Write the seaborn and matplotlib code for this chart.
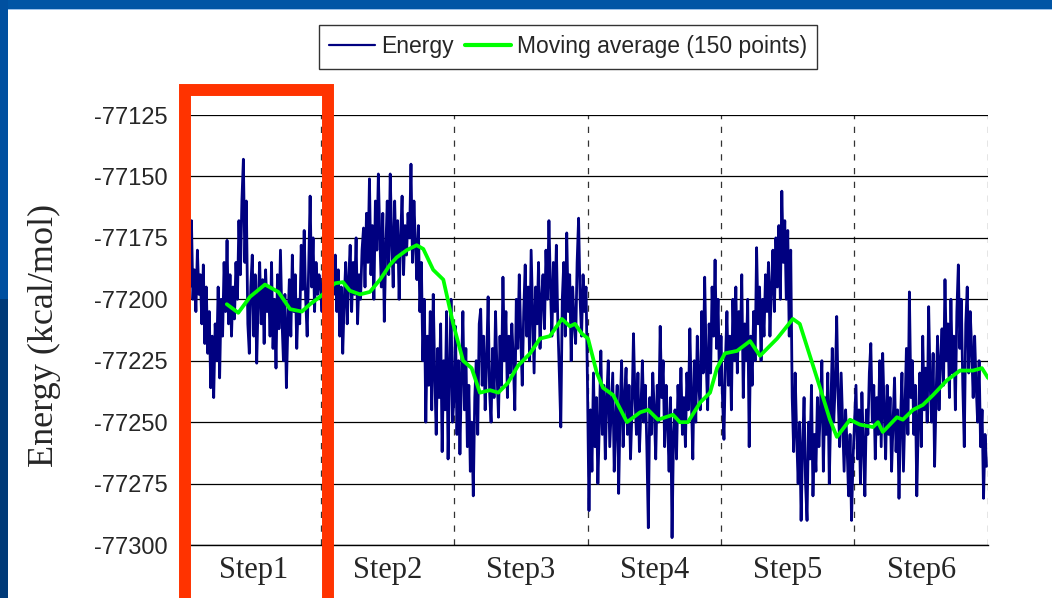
import numpy as np
import pandas as pd
import matplotlib
matplotlib.use("Agg")
import matplotlib.pyplot as plt
from matplotlib.patches import Rectangle
import seaborn as sns

# ---------------- data ----------------
steps = ["Step1", "Step2", "Step3", "Step4", "Step5", "Step6"]
samples_per_step = 500
y_ticks = [-77300, -77275, -77250, -77225, -77200, -77175, -77150, -77125]

energy_step1 = [-77185, -77170, -77195, -77168, -77200, -77188, -77205, -77180, -77198, -77190,
                -77210, -77186, -77218, -77195, -77222,
                -77205, -77236, -77215, -77240, -77210, -77225, -77195, -77232, -77200, -77215, -77185,
                -77205, -77176, -77210, -77190, -77215, -77195, -77208, -77185, -77200, -77168,
                -77190, -77160, -77143, -77185, -77160, -77210, -77222,
                -77195, -77182, -77215, -77190, -77226, -77200, -77185, -77210, -77192, -77218, -77188, -77205,
                -77195, -77215, -77185, -77220, -77200, -77228, -77190, -77212, -77180, -77208, -77225, -77198,
                -77236, -77210, -77192, -77215,
                -77182, -77205, -77190, -77220, -77200, -77210, -77178, -77196, -77172, -77200,
                -77215, -77188, -77158, -77195, -77175, -77205, -77185, -77198, -77190]
energy_step2 = [-77195, -77205, -77188, -77210, -77192, -77200, -77185, -77208, -77190, -77198,
                -77182, -77205, -77188, -77215, -77195, -77222, -77200, -77185, -77210, -77192,
                -77178, -77205, -77185, -77198, -77175, -77210, -77190, -77200, -77180, -77171,
                -77195, -77165, -77185, -77151, -77190, -77170, -77200, -77160, -77180, -77149,
                -77175, -77195, -77165, -77209, -77180, -77160, -77190, -77149, -77175, -77195,
                -77160, -77185, -77168, -77200, -77175, -77158, -77190, -77170, -77182, -77165,
                -77175, -77145, -77185, -77160, -77178,
                -77192, -77170, -77205, -77185, -77225, -77200, -77250, -77215,
                -77235, -77205, -77245, -77198, -77230, -77255, -77220, -77240, -77210, -77262,
                -77225, -77245, -77205, -77265, -77230, -77200, -77250]
energy_step3 = [-77240, -77211, -77255, -77225, -77263, -77230, -77205, -77245, -77220, -77260,
                -77235, -77270, -77250, -77280, -77240, -77225, -77255, -77210, -77204, -77235,
                -77215, -77245, -77225, -77199, -77238, -77250, -77220, -77240, -77205, -77230,
                -77248, -77215, -77235, -77191, -77225, -77205, -77240, -77215, -77230, -77210,
                -77225, -77245, -77200, -77220, -77190, -77215, -77235, -77205, -77186, -77215,
                -77195, -77225, -77180, -77205, -77230, -77195, -77210, -77185, -77220, -77200,
                -77190, -77212, -77180, -77200, -77168, -77195, -77215, -77185, -77205, -77178,
                -77210, -77230, -77252, -77200, -77185, -77215, -77173, -77205, -77190, -77225,
                -77195, -77210, -77218, -77185, -77167, -77200, -77215, -77190, -77205, -77195]
energy_step4 = [-77235, -77286, -77245, -77270, -77230, -77260, -77240, -77275, -77250, -77221,
                -77255, -77235, -77265, -77240, -77225, -77260, -77245, -77230, -77270, -77250,
                -77235, -77279, -77245, -77225, -77260, -77240, -77228, -77255, -77235, -77265,
                -77245, -77214, -77240, -77255, -77230, -77262, -77245, -77225, -77250, -77235,
                -77260, -77293, -77240, -77255, -77230, -77245, -77265, -77235, -77250, -77211,
                -77240, -77225, -77260, -77235, -77250, -77270, -77240, -77297, -77255, -77245,
                -77265, -77235, -77250, -77228, -77255, -77240, -77260, -77230, -77245, -77212,
                -77240, -77265, -77225, -77250, -77215, -77235, -77245, -77205, -77230, -77191,
                -77225, -77245, -77210, -77230, -77195, -77215, -77184, -77220, -77200, -77235]
energy_step5 = [-77215, -77240, -77257, -77225, -77205, -77235, -77215, -77245, -77200, -77225,
                -77195, -77230, -77205, -77220, -77190, -77240, -77210, -77225, -77200, -77260,
                -77215, -77235, -77205, -77225, -77179, -77210, -77195, -77225, -77200, -77215,
                -77190, -77205, -77185, -77215, -77195, -77180, -77205, -77175, -77195, -77170,
                -77200, -77156, -77185, -77168, -77200, -77172, -77215, -77180, -77240, -77262,
                -77230, -77255, -77275, -77250, -77290, -77260, -77240, -77275, -77290, -77250,
                -77265, -77235, -77280, -77255, -77270, -77240, -77260, -77245, -77225, -77270,
                -77240, -77255, -77230, -77275, -77245, -77220, -77250, -77235, -77207, -77240,
                -77260, -77230, -77250, -77270, -77245, -77260, -77280, -77255, -77290, -77265]
energy_step6 = [-77250, -77235, -77265, -77245, -77275, -77238, -77260, -77280, -77245, -77255,
                -77230, -77218, -77250, -77235, -77265, -77240, -77255, -77225, -77260, -77222,
                -77245, -77265, -77235, -77255, -77240, -77270, -77250, -77232, -77262, -77245,
                -77281, -77250, -77230, -77270, -77245, -77220, -77255, -77197, -77240, -77225,
                -77255, -77235, -77280, -77250, -77230, -77260, -77215, -77245, -77228, -77250,
                -77203, -77235, -77250, -77222, -77268, -77240, -77215, -77245, -77225, -77212,
                -77235, -77192, -77225, -77210, -77240, -77200, -77230, -77215, -77245, -77205,
                -77186, -77220, -77200, -77235, -77260, -77210, -77195, -77230, -77205, -77220,
                -77240, -77215, -77235, -77250, -77225, -77260, -77245, -77281, -77255, -77268]
energy_steps = [energy_step1, energy_step2, energy_step3, energy_step4, energy_step5, energy_step6]

ma_sample = [149, 192, 236, 292, 342, 361, 386, 430, 461, 498, 554, 584, 610, 648, 685, 723,
             760, 785, 823, 860, 885, 922, 960, 997, 1034, 1066, 1097, 1135, 1166, 1202, 1240,
             1285, 1322, 1359, 1404, 1434, 1453, 1479, 1502, 1535, 1558, 1596, 1648, 1697, 1727,
             1764, 1820, 1846, 1876, 1922, 1959, 1985, 2015, 2060, 2109, 2146, 2210, 2269, 2295,
             2333, 2371, 2408, 2434, 2483, 2520, 2569, 2588, 2606, 2659, 2681, 2719, 2756, 2794,
             2846, 2895, 2944, 2977, 3000]
ma_value = [-77202, -77205.5, -77199, -77194, -77197, -77200, -77204, -77205, -77202, -77199,
            -77193.5, -77193, -77196.5, -77198, -77197, -77192, -77186, -77183, -77180, -77178,
            -77179.5, -77188, -77192, -77210, -77225, -77228, -77238, -77237, -77238, -77234,
            -77227, -77222, -77216, -77215, -77208, -77211, -77210, -77214, -77216, -77230,
            -77236, -77239, -77250, -77246, -77245, -77249, -77247, -77250, -77250, -77242,
            -77238, -77228, -77222, -77221, -77217, -77223, -77216, -77208, -77210, -77223,
            -77236, -77249, -77256, -77249, -77251, -77252, -77250, -77254, -77248, -77249,
            -77245, -77243, -77239, -77233, -77229, -77229, -77228, -77232]

# ---------------- build tables ----------------
xs, ys = [], []
for i, vals in enumerate(energy_steps):
    n = len(vals)
    xs.append(i * samples_per_step + np.arange(n) * samples_per_step / n)
    ys.append(np.asarray(vals, dtype=float))
energy_df = pd.DataFrame({"sample": np.concatenate(xs), "energy": np.concatenate(ys)})
ma_df = pd.DataFrame({"sample": ma_sample, "energy": ma_value})

# ---------------- style ----------------
sns.set_style("white")
plt.rcParams["font.family"] = ["Liberation Sans", "DejaVu Sans"]

W, H = 1052, 598
fig = plt.figure(figsize=(W / 100, H / 100), dpi=100)
fig.patch.set_facecolor("white")
ax = fig.add_axes([187 / W, 1 - 545 / H, (988 - 187) / W, (545 - 115) / H])
ax.set_facecolor("white")

sns.lineplot(data=energy_df, x="sample", y="energy", ax=ax, color="#000080",
             linewidth=2.0, estimator=None, sort=False, label="Energy", zorder=3)
sns.lineplot(data=ma_df, x="sample", y="energy", ax=ax, color="#00FF00",
             linewidth=2.7, estimator=None, sort=False,
             label="Moving average (150 points)", zorder=4)

ax.set_xlim(0, samples_per_step * len(steps))
ax.set_ylim(-77300, -77125)

# x axis: major ticks at step boundaries, labels centred between
bounds = [i * samples_per_step for i in range(len(steps) + 1)]
centers = [i * samples_per_step + samples_per_step / 2 for i in range(len(steps))]
ax.set_xticks(bounds)
ax.set_xticklabels([""] * len(bounds))
ax.set_xticks(centers, minor=True)
ax.set_xticklabels(steps, minor=True, fontfamily="Liberation Serif", fontsize=22)
ax.tick_params(axis="x", which="major", direction="out", length=6, width=1, color="black")
ax.tick_params(axis="x", which="minor", length=0, pad=8)

ax.set_yticks(y_ticks)
ax.set_yticklabels([str(v) for v in y_ticks], fontsize=17, fontfamily="Liberation Sans")
ax.tick_params(axis="y", length=0, pad=14)

ax.grid(False)
ax.yaxis.grid(True, color="black", linewidth=0.9, linestyle="-")
ax.xaxis.grid(True, which="major", color="#333333", linewidth=0.9, linestyle=(0, (5, 6)))
ax.set_axisbelow(True)

for s in ["top", "right", "left"]:
    ax.spines[s].set_visible(False)
ax.spines["bottom"].set_color("black")
ax.spines["bottom"].set_linewidth(1.0)

ax.set_xlabel("")
ax.set_ylabel("Energy (kcal/mol)", fontfamily="Liberation Serif", fontsize=26, va="center")
ax.yaxis.set_label_coords((44 - 187) / (988 - 187), (545 - 335) / (545 - 115))

leg = ax.legend(loc="upper left", bbox_to_anchor=(319 / W, 1 - 25 / H),
                bbox_transform=fig.transFigure, ncol=2, frameon=True, fancybox=False,
                edgecolor="black", borderaxespad=0, borderpad=0.45, handlelength=2.0,
                handletextpad=0.25, columnspacing=0.5, fontsize=16.5)
leg.get_frame().set_linewidth(1.0)
leg.get_lines()[0].set_linewidth(1.6)
leg.get_lines()[1].set_linewidth(3.0)

# slide frame (blue strips)
fig.add_artist(Rectangle((0, 1 - 9 / H), 1, 9 / H, transform=fig.transFigure,
                         facecolor="#0055A5", edgecolor="none", zorder=6))
fig.add_artist(Rectangle((0, 1 - 10 / H), 1, 1 / H, transform=fig.transFigure,
                         facecolor="#9CC2EA", edgecolor="none", zorder=6))
fig.add_artist(Rectangle((0, 0.5), 8 / W, 0.5, transform=fig.transFigure,
                         facecolor="#0050A0", edgecolor="none", zorder=6))
fig.add_artist(Rectangle((0, 0), 8 / W, 0.5, transform=fig.transFigure,
                         facecolor="#003A78", edgecolor="none", zorder=6))

# red highlight box around Step1
fig.add_artist(Rectangle((185 / W, 1 - 601 / H), (328.5 - 185) / W, (601 - 90) / H,
                         transform=fig.transFigure, fill=False, edgecolor="#FF3300",
                         linewidth=8.6, joinstyle="miter", zorder=7, clip_on=False))

fig.savefig("out.png", dpi=100)
